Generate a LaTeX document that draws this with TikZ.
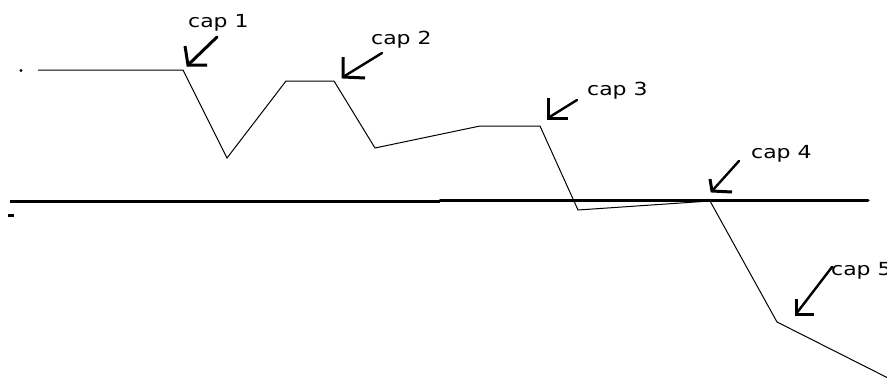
\documentclass[tikz,border=0pt]{standalone}
\usepackage{fontspec}
\setmainfont{DejaVu Sans}
\begin{document}
\begin{tikzpicture}[x=1pt,y=-1pt,
  thin line/.style={line width=1pt,black},
  thick line/.style={line width=3pt,black},
  shaft/.style={line width=2.4pt,black,line cap=round},
  lhead/.style={line width=3pt,black,line join=miter},
  lbl/.style={anchor=base west,inner sep=0pt,font=\fontsize{18}{20}\selectfont}]
\useasboundingbox (0,0) rectangle (887,383);
\clip (0,0) rectangle (887,383);
% stray marks
\fill (21,70.5) circle (1.7);
\fill (8,213.5) rectangle (14,217);
% main ground line
\coordinate (g0) at (10,201);
\coordinate (g1) at (440,201);
\coordinate (g2) at (440,200);
\coordinate (g3) at (868,200);
\draw[thick line] (g0) -- (g1);
\draw[thick line,line cap=round] (g2) -- (g3);
% profile polyline
\coordinate (p0) at (38,70);
\coordinate (p1) at (183,70);
\coordinate (p2) at (227,158);
\coordinate (p3) at (286,81);
\coordinate (p4) at (334,81);
\coordinate (p5) at (375,148);
\coordinate (p6) at (480,126);
\coordinate (p7) at (540,126);
\coordinate (p8) at (578,210);
\coordinate (p9) at (710,201);
\coordinate (p10) at (777,322);
\coordinate (p11) at (892,380);
\draw[thin line] (p0) -- (p1) -- (p2) -- (p3) -- (p4) -- (p5) -- (p6) -- (p7) -- (p8) -- (p9) -- (p10) -- (p11);
% labels
\node[lbl] (l1) at (188,27) {\scalebox{1.22}[1]{cap 1}};
\node[lbl] (l2) at (371,44) {\scalebox{1.22}[1]{cap 2}};
\node[lbl] (l3) at (587,95) {\scalebox{1.22}[1]{cap 3}};
\node[lbl] (l4) at (751,158.5) {\scalebox{1.22}[1]{cap 4}};
\node[lbl] (l5) at (831,275) {\scalebox{1.22}[1]{cap 5}};
% arrow tails and tips
\coordinate (s1) at (217,37);  \coordinate (t1) at (188,65);
\coordinate (s2) at (382,53);  \coordinate (t2) at (343,77);
\coordinate (s3) at (577,100); \coordinate (t3) at (548,118);
\coordinate (s4) at (739,161); \coordinate (t4) at (712,191);
\coordinate (s5) at (832,267); \coordinate (t5) at (796,314);
\draw[shaft,line width=3pt] (s1) -- (t1);
\draw[shaft] (s2) -- (t2);
\draw[shaft] (s3) -- (t3);
\draw[shaft] (s4) -- (t4);
\draw[shaft] (s5) -- (t5);
\draw[lhead] (t1) ++(-3,-19) -- (t1) -- ++(19,0);
\draw[lhead] (t2) ++(0,-20) -- (t2) -- ++(22,1);
\draw[lhead] (t3) ++(0,-20) -- (t3) -- ++(20,0);
\draw[lhead] (t4) ++(-2,-12) -- (t4) -- ++(20,1);
\draw[lhead] (t5) ++(0,-15) -- (t5) -- ++(18,0);
\end{tikzpicture}
\end{document}
